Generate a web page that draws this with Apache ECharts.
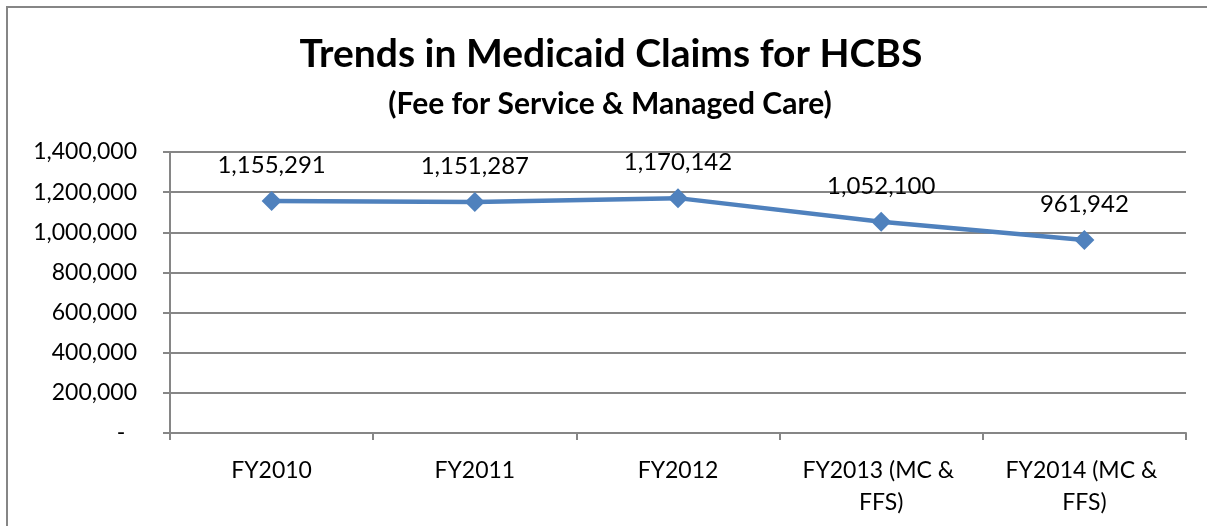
<!DOCTYPE html>
<html>
<head>
<meta charset="utf-8">
<script src="https://cdn.jsdelivr.net/npm/echarts@6/dist/echarts.min.js"></script>
<style>
  html, body { margin: 0; padding: 0; background: #fff; }
  #chart { width: 1207px; height: 526px; }
</style>
</head>
<body>
<div id="chart"></div>
<script>
const titleText = 'Trends in Medicaid Claims for HCBS';
const subtitleText = '(Fee for Service & Managed Care)';
const categories = ['FY2010', 'FY2011', 'FY2012', 'FY2013 (MC & FFS)', 'FY2014 (MC & FFS)'];
const claims = [1155291, 1151287, 1170142, 1052100, 961942];
const yTicks = [0, 200000, 400000, 600000, 800000, 1000000, 1200000, 1400000];

const FONT = 'Lato';
const fmt = v => v === 0 ? '-  ' : v.toLocaleString('en-US');

const chart = echarts.init(document.getElementById('chart'), null, { renderer: 'canvas' });
chart.setOption({
  animation: false,
  backgroundColor: '#ffffff',
  graphic: [{
    type: 'rect',
    shape: { x: 7, y: 7, width: 1230, height: 540 },
    style: { fill: 'none', stroke: '#868686', lineWidth: 2 },
    silent: true
  }],
  title: [{
    text: titleText,
    left: 606,
    textAlign: 'center',
    top: 30,
    textStyle: { fontFamily: FONT, fontWeight: 'bold', fontSize: 39, color: '#000' }
  }, {
    text: subtitleText,
    left: 605,
    textAlign: 'center',
    top: 84,
    textStyle: { fontFamily: FONT, fontWeight: 'bold', fontSize: 30, color: '#000' }
  }],
  grid: { left: 170, right: 21, top: 152, bottom: 93, containLabel: false },
  xAxis: {
    type: 'category',
    data: categories,
    boundaryGap: true,
    axisLine: { show: true, lineStyle: { color: '#868686', width: 2 } },
    axisTick: { show: true, length: 7, alignWithLabel: false, lineStyle: { color: '#868686', width: 2 } },
    axisLabel: {
      fontFamily: FONT, fontSize: 23, color: '#000', margin: 22, lineHeight: 32,
      interval: 0, width: 180, overflow: 'break'
    }
  },
  yAxis: {
    type: 'value',
    min: 0, max: 1400000, interval: 200000,
    axisLine: { show: true, lineStyle: { color: '#868686', width: 2 } },
    axisTick: { show: true, length: 7, lineStyle: { color: '#868686', width: 2 } },
    splitLine: { show: true, lineStyle: { color: '#868686', width: 2 } },
    axisLabel: { fontFamily: FONT, fontSize: 23, color: '#000', margin: 33, formatter: fmt }
  },
  series: [{
    type: 'line',
    data: claims,
    symbol: 'diamond',
    symbolSize: 20,
    lineStyle: { color: '#4f81bd', width: 4.5 },
    itemStyle: { color: '#4f81bd' },
    label: {
      show: true, position: 'top', distance: 14,
      fontFamily: FONT, fontSize: 24, color: '#000',
      formatter: p => p.value.toLocaleString('en-US')
    }
  }]
});
</script>
</body>
</html>
